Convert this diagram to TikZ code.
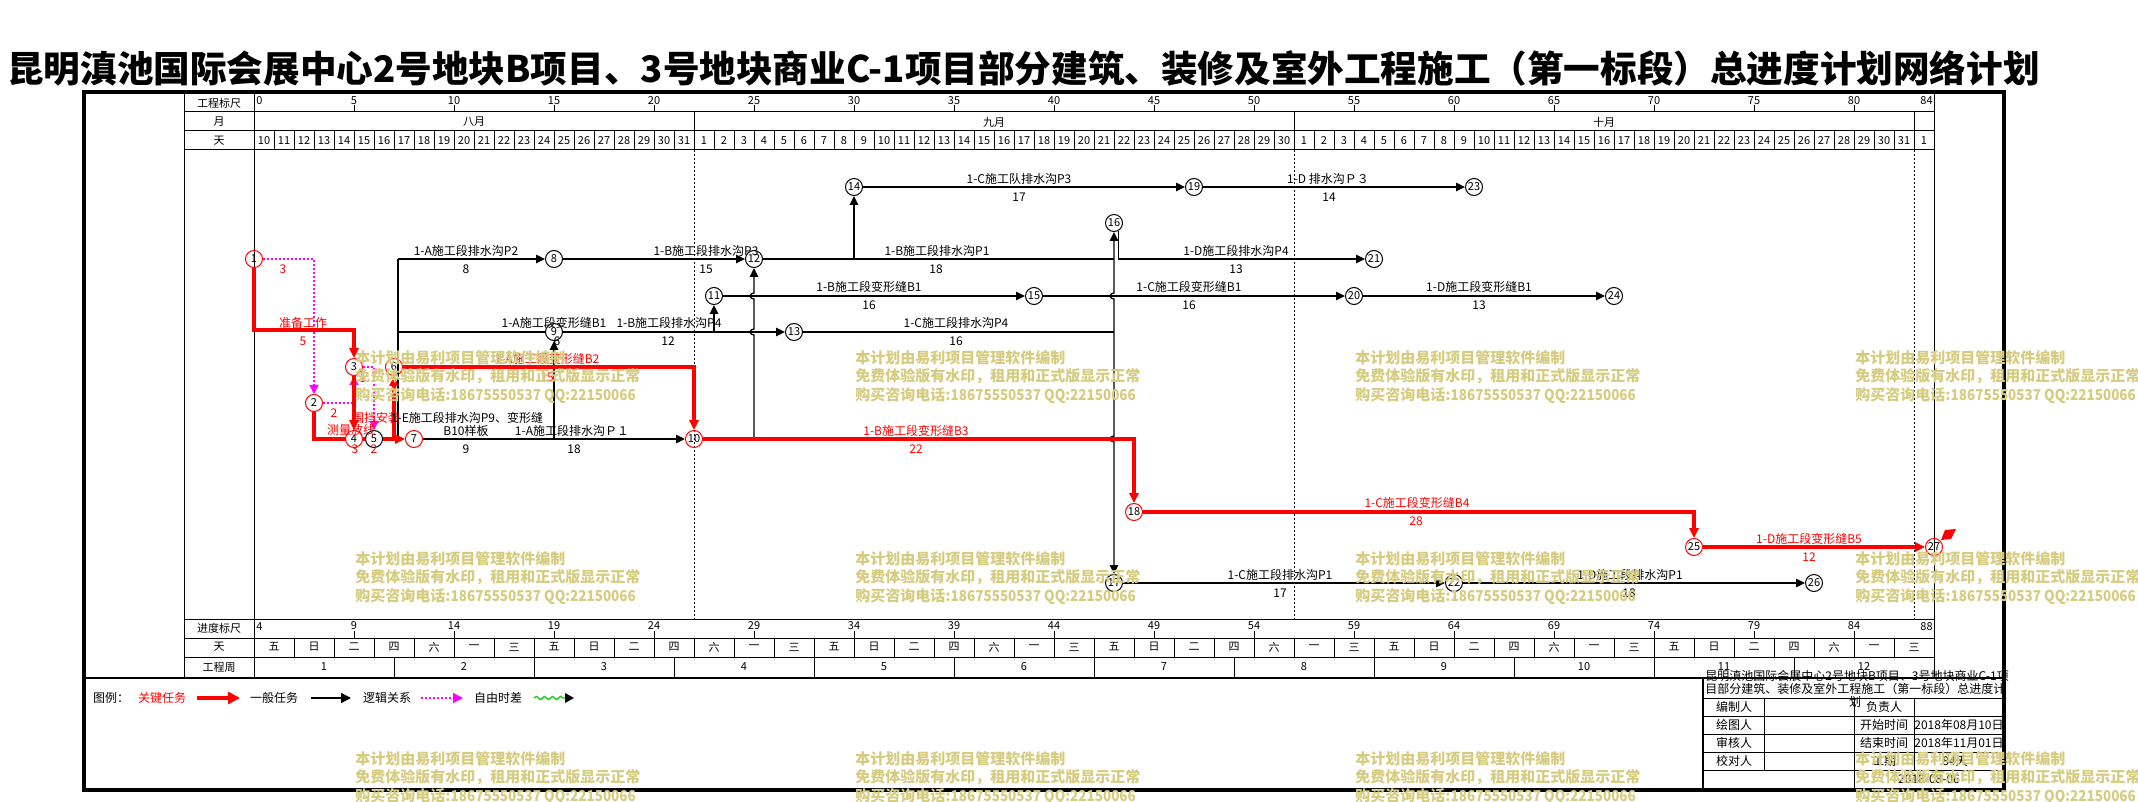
\documentclass[tikz,border=0pt]{standalone}
\usepackage{fontspec}
\setmainfont{Noto Sans CJK SC}
\usetikzlibrary{arrows.meta,decorations.pathmorphing}
\definecolor{wmc}{RGB}{214,204,128}
\definecolor{magc}{RGB}{255,0,255}
\definecolor{grnc}{RGB}{0,210,0}
\newcommand\LabF{\fontsize{6}{6}\selectfont}
\newcommand\NodF{\fontsize{5.5}{5.5}\selectfont}
\newcommand\HdF{\fontsize{5.5}{5.5}\selectfont}
\newcommand\WmF{\fontsize{7.5}{9.3}\selectfont\bfseries}
\newcommand\TitF{\fontsize{18.3}{18.3}\selectfont\bfseries}
\newcommand\WkD[1]{\ifcase#1 五\or 日\or 二\or 四\or 六\or 一\or 三\fi}
\begin{document}
\begin{tikzpicture}[x=0.5pt,y=-0.5pt,
 tl/.style={line width=0.5pt},
 ln/.style={line width=0.7pt},
 act/.style={line width=0.7pt,-{Triangle[length=4.5pt,width=4.2pt]}},
 crit/.style={draw=red,line width=1.7pt,-{Triangle[length=5pt,width=4.6pt]}},
 critn/.style={draw=red,line width=1.7pt},
 dum/.style={draw=magc,line width=0.6pt,dash pattern=on 1pt off 1pt,-{Triangle[length=4.5pt,width=4.5pt]}},
 nd/.style={circle,draw=black,line width=0.5pt,inner sep=0pt,minimum size=8.5pt,font=\NodF},
 rnd/.style={nd,draw=red},
 lab/.style={font=\LabF,inner sep=0pt},
 rlab/.style={lab,text=red},
 hd/.style={font=\HdF,inner sep=0pt},
 wmk/.style={font=\WmF,text=wmc,align=left,anchor=north west,inner sep=0pt},
]
\fill[white] (0,0) rectangle (2138,802);
\useasboundingbox (0,0) rectangle (2138,802);
% title
\node[font=\TitF,anchor=west,inner sep=0pt] (title) at (7,68) {昆明滇池国际会展中心2号地块B项目、3号地块商业C-1项目部分建筑、装修及室外工程施工（第一标段）总进度计划网络计划};
% frame
\draw[line width=2.2pt] (84,92) rectangle (2004,790);
\draw[line width=1pt] (84,678) -- (2004,678);
% header and scale tables
\draw[tl] (184,92) -- (184,678);
\draw[tl] (254,92) -- (254,678);
\draw[tl] (1934,92) -- (1934,678);
\foreach \yy in {112,131,150,619,638,657} \draw[tl] (184,\yy) -- (1934,\yy);
\node[hd] (h1) at (219,103) {工程标尺};
\node[hd] (h2) at (219,122) {月};
\node[hd] (h3) at (219,141) {天};
\node[hd] (h4) at (219,628) {进度标尺};
\node[hd] (h5) at (219,647) {天};
\node[hd] (h6) at (219,667) {工程周};
% engineering scale
\node[hd,anchor=west] (s0) at (256,101) {0};
\node[hd,anchor=east] (s84) at (1933,101) {84};
\foreach \k in {1,...,16}{
  \pgfmathtruncatemacro\tv{5*\k}
  \draw[tl] (254+100*\k,105) -- (254+100*\k,112);
  \node[hd] (s\k) at (254+100*\k,101) {\tv};
}
% months
\foreach \xx in {694,1294,1914} \draw[tl] (\xx,112) -- (\xx,131);
\node[hd] (m8) at (474,122) {八月};
\node[hd] (m9) at (994,122) {九月};
\node[hd] (m10) at (1604,122) {十月};
% days
\foreach \i in {0,...,83}{
  \pgfmathtruncatemacro\dd{(\i<22)*(\i+10)+(\i>21)*(\i<52)*(\i-21)+(\i>51)*(\i<83)*(\i-51)+(\i==83)*1}
  \node[hd] (dn\i) at (264+20*\i,141) {\dd};
}
\foreach \i in {1,...,83} \draw[tl] (254+20*\i,131) -- (254+20*\i,150);
% month dotted lines
\foreach \xx in {694,1294,1914} \draw[line width=0.5pt,dash pattern=on 1pt off 1pt] (\xx,150) -- (\xx,619);
% progress scale
\node[hd,anchor=west] (p0) at (256,627) {4};
\node[hd,anchor=east] (p88) at (1933,627) {88};
\foreach \k in {1,...,16}{
  \pgfmathtruncatemacro\pv{4+5*\k}
  \draw[tl] (254+100*\k,631) -- (254+100*\k,638);
  \node[hd] (p\k) at (254+100*\k,626) {\pv};
}
\foreach \i in {0,...,41}{
  \pgfmathtruncatemacro\wm{mod(\i,7)}
  \node[hd] (wd\i) at (274+40*\i,647) {\WkD{\wm}};
}
\foreach \i in {1,...,41} \draw[tl] (254+40*\i,638) -- (254+40*\i,657);
\foreach \k in {1,...,12} \node[hd] (wk\k) at (184+140*\k,667) {\k};
\foreach \k in {1,...,11} \draw[tl] (254+140*\k,657) -- (254+140*\k,678);
% nodes
\node[rnd] (n1) at (254,259) {1};
\node[rnd] (n2) at (314,403) {2};
\node[rnd] (n3) at (354,367) {3};
\node[rnd] (n4) at (354,439) {4};
\node[nd] (n5) at (374,439) {5};
\node[rnd] (n6) at (394,367) {6};
\node[rnd] (n7) at (414,439) {7};
\node[nd] (n8) at (554,259) {8};
\node[nd] (n9) at (554,332) {9};
\node[rnd] (n10) at (694,439) {10};
\node[nd] (n11) at (714,296) {11};
\node[nd] (n12) at (754,259) {12};
\node[nd] (n13) at (794,332) {13};
\node[nd] (n14) at (854,187) {14};
\node[nd] (n15) at (1034,296) {15};
\node[nd] (n16) at (1114,223) {16};
\node[nd] (n17) at (1114,583) {17};
\node[rnd] (n18) at (1134,512) {18};
\node[nd] (n19) at (1194,187) {19};
\node[nd] (n20) at (1354,296) {20};
\node[nd] (n21) at (1374,259) {21};
\node[nd] (n22) at (1454,583) {22};
\node[nd] (n23) at (1474,187) {23};
\node[nd] (n24) at (1614,296) {24};
\node[rnd] (n25) at (1694,547) {25};
\node[nd] (n26) at (1814,583) {26};
\node[rnd] (n27) at (1934,547) {27};
% junctions
\coordinate (a1) at (254,330);
\coordinate (j6t) at (398,259);
\coordinate (j6m) at (398,332);
\coordinate (j6b) at (398,439);
\coordinate (j9) at (554,439);
\coordinate (j11) at (714,332);
\coordinate (j12) at (754,439);
\coordinate (j14) at (854,259);
\coordinate (j16a) at (1114,259);
\coordinate (j16b) at (1114,332);
\coordinate (j46) at (394,439);
% black connectors
\draw[act] (j6t) -- (n8);
\draw[ln] (j6t) -- (j6b);
\draw[act] (n8) -- (n12);
\draw[ln] (n12) -- (j16a);
\draw[act] (j14) -- (n14);
\draw[act] (n14) -- (n19);
\draw[act] (n19) -- (n23);
\draw[act] (n16.-60) |- (n21);
\draw[act] (n11) -- (n15);
\draw[act] (n15) -- (n20);
\draw[act] (n20) -- (n24);
\draw[ln] (j6m) -- (n9);
\draw[act] (n9) -- (n13);
\draw[act] (j11) -- (n11);
\draw[ln] (n13) -- (j16b);
\draw[act] (j16b) -- (1114,299) .. controls (1109,299) and (1109,293) .. (1114,293) -- (n16);
\draw[act] (j16b) -- (1114,436) .. controls (1109,436) and (1109,442) .. (1114,442) -- (n17);
\draw[act] (j12) -- (754,335) .. controls (749,335) and (749,329) .. (754,329) -- (754,299) .. controls (749,299) and (749,293) .. (754,293) -- (n12);
\draw[act] (j9) -- (n9);
\draw[act] (n7) -- (n10);
\draw[act] (n17) -- (n22);
\draw[act] (n22) -- (n26);
% logic (dotted)
\draw[dum] (n1) -- (314,259) -- (n2);
\draw[dum] (n2) -- (354,403) -- (n3);
\draw[dum] (n3) -| (n5);
% critical
\draw[crit] (n1) -- (a1) -| (n3);
\draw[crit] (n3) -- (n4);
\draw[critn] (n2) |- (n4);
\draw[critn] (n4) -- (n5);
\draw[crit] (n5) -- (n7);
\draw[crit] (j46) -- (n6);
\draw[crit] (n6) -| (n10);
\draw[crit] (n10) -| (n18);
\draw[crit] (n18) -| (n25);
\draw[crit] (n25) -- (n27);
\fill[red] (1941,540) -- (1945,530) -- (1956,529) -- (1951,539) -- cycle;
% labels
\node[rlab] (l1) at (283,269) {3};
\node[rlab] (l2) at (303,323) {准备工作};
\node[rlab] (l3) at (303,341) {5};
\node[rlab] (l4) at (334,413) {2};
\node[rlab] (l5) at (363,378) {1};
\node[rlab] (l6) at (351,430) {测量放线};
\node[rlab] (l7) at (355,449) {3};
\node[rlab] (l8) at (376,418) {围挡安装};
\node[rlab] (l9) at (374,449) {2};
\node[lab] (b1) at (466,251) {1-A施工段排水沟P2};
\node[lab] (b2) at (466,269) {8};
\node[lab] (b3) at (706,251) {1-B施工段排水沟P3};
\node[lab] (b4) at (706,269) {15};
\node[lab] (b5) at (937,251) {1-B施工段排水沟P1};
\node[lab] (b6) at (936,269) {18};
\node[lab] (b7) at (1236,251) {1-D施工段排水沟P4};
\node[lab] (b8) at (1236,269) {13};
\node[lab] (b9) at (1019,179) {1-C施工队排水沟P3};
\node[lab] (b10) at (1019,197) {17};
\node[lab] (b11) at (1328,179) {1-D 排水沟Ｐ３};
\node[lab] (b12) at (1329,197) {14};
\node[lab] (b13) at (869,287) {1-B施工段变形缝B1};
\node[lab] (b14) at (869,305) {16};
\node[lab] (b15) at (1189,287) {1-C施工段变形缝B1};
\node[lab] (b16) at (1189,305) {16};
\node[lab] (b17) at (1479,287) {1-D施工段变形缝B1};
\node[lab] (b18) at (1479,305) {13};
\node[lab] (b19) at (554,323) {1-A施工段变形缝B1};
\node[lab] (b20) at (557,341) {6};
\node[lab] (b21) at (669,323) {1-B施工段排水沟P4};
\node[lab] (b22) at (668,341) {12};
\node[lab] (b23) at (956,323) {1-C施工段排水沟P4};
\node[lab] (b24) at (956,341) {16};
\node[lab] (b25) at (467,418) {1-E施工段排水沟P9、变形缝};
\node[lab] (b26) at (466,431) {B10样板};
\node[lab] (b27) at (466,449) {9};
\node[lab] (b28) at (572,431) {1-A施工段排水沟Ｐ１};
\node[lab] (b29) at (574,449) {18};
\node[lab] (b30) at (1280,575) {1-C施工段排水沟P1};
\node[lab] (b31) at (1280,593) {17};
\node[lab] (b32) at (1630,575) {1-D施工段排水沟P1};
\node[lab] (b33) at (1629,593) {18};
\node[rlab] (r1) at (547,359) {1-A施工段变形缝B2};
\node[rlab] (r2) at (547,377) {15};
\node[rlab] (r3) at (916,431) {1-B施工段变形缝B3};
\node[rlab] (r4) at (916,449) {22};
\node[rlab] (r5) at (1417,503) {1-C施工段变形缝B4};
\node[rlab] (r6) at (1416,521) {28};
\node[rlab] (r7) at (1809,539) {1-D施工段变形缝B5};
\node[rlab] (r8) at (1809,557) {12};
% legend
\node[lab] (lg0) at (111,698) {图例：};
\node[rlab] (lg1) at (162,698) {关键任务};
\draw[red,line width=2pt,-{Triangle[length=6pt,width=6pt]}] (197,698) -- (240,698);
\node[lab] (lg2) at (274,698) {一般任务};
\draw[line width=0.7pt,-{Triangle[length=5pt,width=5pt]}] (311,698) -- (351,698);
\node[lab] (lg3) at (387,698) {逻辑关系};
\draw[dum,-{Triangle[length=5pt,width=5pt]}] (421,698) -- (463,698);
\node[lab] (lg4) at (498,698) {自由时差};
\draw[grnc,line width=0.6pt,decorate,decoration={snake,amplitude=0.8pt,segment length=4pt}] (534,698) -- (566,698);
\fill (565,693) -- (574,698) -- (565,703) -- cycle;
% title block
\draw[line width=1pt] (1703,678) -- (1703,790);
\foreach \yy in {698,716,734,752,770} \draw[tl] (1703,\yy) -- (2004,\yy);
\draw[tl] (1764,698) -- (1764,770);
\draw[tl] (1854,698) -- (1854,790);
\draw[tl] (1914,698) -- (1914,770);
\node[lab,anchor=west] (tb1) at (1705,676) {昆明滇池国际会展中心2号地块B项目、3号地块商业C-1项};
\node[lab,anchor=west] (tb2) at (1705,689) {目部分建筑、装修及室外工程施工（第一标段）总进度计};
\node[lab] (tb3) at (1855,702) {划};
\node[lab] (tc1) at (1734,707) {编制人};
\node[lab] (tc2) at (1734,725) {绘图人};
\node[lab] (tc3) at (1734,743) {审核人};
\node[lab] (tc4) at (1734,761) {校对人};
\node[lab] (tc5) at (1884,707) {负责人};
\node[lab] (tc6) at (1884,725) {开始时间};
\node[lab] (tc7) at (1884,743) {结束时间};
\node[lab] (tc8) at (1884,761) {工期};
\node[lab] (tc9) at (1959,725) {2018年08月10日};
\node[lab] (tc10) at (1959,743) {2018年11月01日};
\node[lab] (tc11) at (1955,761) {84天};
\node[lab] (tc12) at (1929,779) {2018-08-06};
% watermarks
\foreach \wx/\wy/\wi in {355/350/1,855/350/2,1355/350/3,1855/350/4,355/551/5,855/551/6,1355/551/7,1855/551/8,355/751/9,855/751/10,1355/751/11,1855/751/12}
  \node[wmk] (wm\wi) at (\wx,\wy) {本计划由易利项目管理软件编制\\免费体验版有水印，租用和正式版显示正常\\购买咨询电话:\scalebox{0.9}[1]{18675550537 QQ:22150066}};
\end{tikzpicture}
\end{document}
